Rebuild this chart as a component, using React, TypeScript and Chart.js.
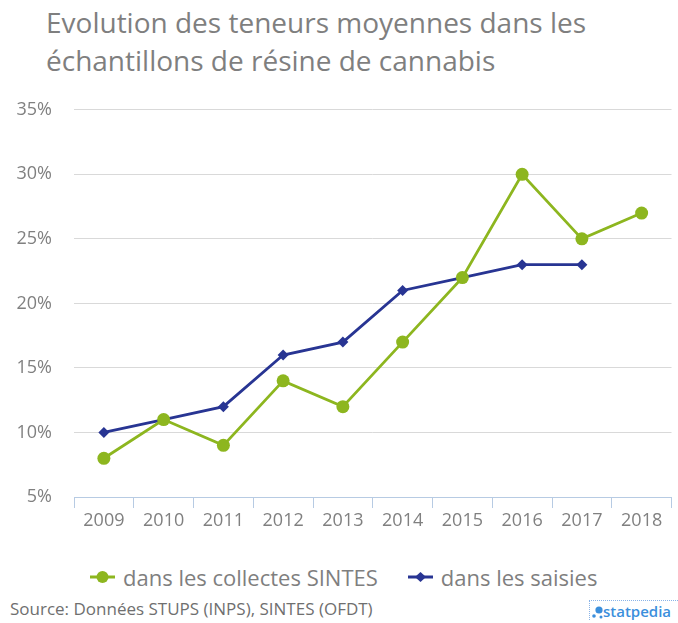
import React, { useEffect, useRef } from "react";
import { Chart, registerables } from "chart.js";

Chart.register(...registerables);

const years = ["2009", "2010", "2011", "2012", "2013", "2014", "2015", "2016", "2017", "2018"];
const collectesSintes = [8, 11, 9, 14, 12, 17, 22, 30, 25, 27];
const saisies = [10, 11, 12, 16, 17, 21, 22, 23, 23, null];
const seriesNames = ["dans les collectes SINTES", "dans les saisies"];
const titleLines = ["Evolution des teneurs moyennes dans les", "échantillons de résine de cannabis"];
const sourceText = "Source: Données STUPS (INPS), SINTES (OFDT)";

const GREEN = "#8db61f";
const BLUE = "#283593";
const GRAY = "#808080";
const FONT = "'Open Sans', sans-serif";

export default function App() {
  const ref = useRef<HTMLCanvasElement | null>(null);
  useEffect(() => {
    document.body.style.margin = "0";
    const chart = new Chart(ref.current!, {
      type: "line",
      data: {
        labels: years,
        datasets: [
          {
            label: seriesNames[0],
            data: collectesSintes,
            borderColor: GREEN,
            backgroundColor: GREEN,
            borderWidth: 2.8,
            pointStyle: "circle",
            pointRadius: 6.5,
            pointBorderWidth: 0,
            tension: 0,
          },
          {
            label: seriesNames[1],
            data: saisies,
            borderColor: BLUE,
            backgroundColor: BLUE,
            borderWidth: 2.8,
            pointStyle: "rectRot",
            pointRadius: 5.5,
            pointBorderWidth: 0,
            tension: 0,
          },
        ],
      },
      options: {
        animation: false,
        responsive: false,
        maintainAspectRatio: false,
        layout: { padding: { left: 0, right: 4, top: 13, bottom: 0 } },
        plugins: { legend: { display: false }, title: { display: false }, tooltip: { enabled: false } },
        scales: {
          x: {
            offset: true,
            grid: { display: true, drawOnChartArea: false, drawTicks: true, tickLength: 11, color: "#b7cbe3", offset: true },
            border: { display: true, color: "#b7cbe3", width: 1 },
            ticks: { color: GRAY, font: { family: FONT, size: 18 }, padding: 2, maxRotation: 0 },
            afterFit: (s: any) => { s.height = 48; },
          },
          y: {
            min: 5,
            max: 35,
            grid: { color: "#d9d9d9", drawTicks: false, lineWidth: 1 },
            border: { display: false },
            ticks: {
              stepSize: 5,
              color: GRAY,
              font: { family: FONT, size: 18 },
              padding: 22,
              callback: (v: any) => v + "%",
            },
            afterFit: (s: any) => { s.width = 74; },
          },
        },
      },
    });
    return () => chart.destroy();
  }, []);

  const legendItem = (color: string, diamond: boolean, label: string, gap: number) => (
    <span style={{ display: "inline-flex", alignItems: "center", marginRight: gap }}>
      <svg width="25" height="14" style={{ marginRight: 8 }}>
        <line x1="0" y1="7" x2="25" y2="7" stroke={color} strokeWidth="3" />
        {diamond ? (
          <polygon points="12.5,2 18,7 12.5,12 7,7" fill={color} />
        ) : (
          <circle cx="12.5" cy="7" r="6" fill={color} />
        )}
      </svg>
      {label}
    </span>
  );

  return (
    <div style={{ position: "relative", width: 678, height: 623, background: "#fff", fontFamily: FONT, overflow: "hidden" }}>
      <div style={{ position: "absolute", left: 46, top: 3, fontSize: 28, lineHeight: "38px", color: "#7f7f7f", whiteSpace: "nowrap" }}>
        {titleLines.map((l, i) => (
          <div key={i}>{l}</div>
        ))}
      </div>
      <canvas ref={ref} width={678} height={468} style={{ position: "absolute", left: 0, top: 77, width: 678, height: 468 }} />
      <div style={{ position: "absolute", left: 90, top: 562, fontSize: 22, color: "#7f7f7f", lineHeight: "30px", whiteSpace: "nowrap", display: "flex", alignItems: "center" }}>
        {legendItem(GREEN, false, seriesNames[0], 30)}
        {legendItem(BLUE, true, seriesNames[1], 0)}
      </div>
      <div style={{ position: "absolute", left: 10, top: 598, fontSize: 17, color: "#6f6f6f", lineHeight: "22px", whiteSpace: "nowrap" }}>{sourceText}</div>
      <div style={{ position: "absolute", left: 589, top: 600, width: 88, height: 19, borderTop: "1px dotted #8ab4e8", borderLeft: "1px dotted #8ab4e8", display: "flex", alignItems: "center", color: "#3b8fdc", fontSize: 15, fontWeight: 600 }}>
        <svg width="12" height="16" style={{ marginLeft: 1 }}>
          <circle cx="3" cy="13" r="1.8" fill="#3b8fdc" />
          <circle cx="8" cy="7" r="3.6" fill="#3b8fdc" />
          <circle cx="10" cy="14" r="1.5" fill="#3b8fdc" />
        </svg>
        <span style={{ lineHeight: "16px" }}>statpedia</span>
      </div>
    </div>
  );
}
